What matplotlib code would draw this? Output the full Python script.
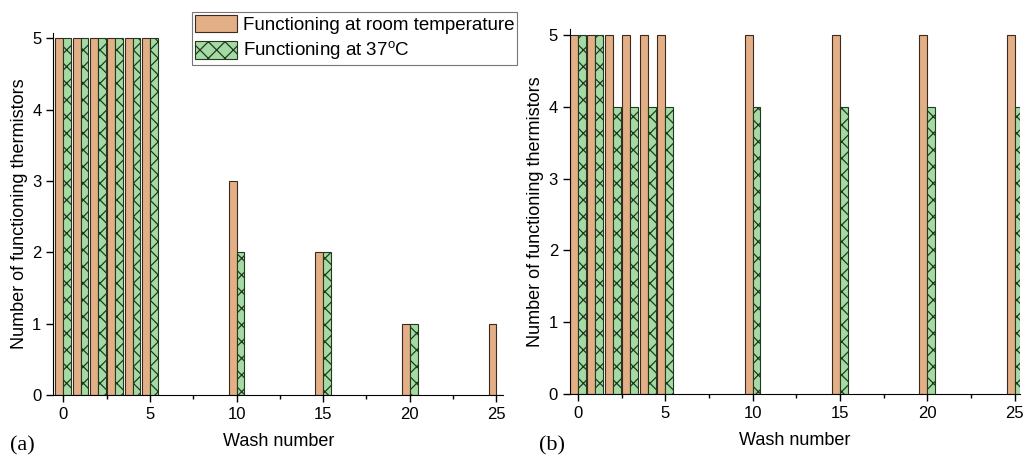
import matplotlib
matplotlib.use("Agg")
import matplotlib.pyplot as plt
import numpy as np

plt.rcParams['font.family'] = ['Liberation Sans', 'DejaVu Sans']
plt.rcParams['hatch.color'] = '#2f6a2f'
plt.rcParams['hatch.linewidth'] = 0.9

wash = [0, 1, 2, 3, 4, 5, 10, 15, 20, 25]
a_room = [5, 5, 5, 5, 5, 5, 3, 2, 1, 1]
a_37 = [5, 5, 5, 5, 5, 5, 2, 2, 1, 0]
b_room = [5, 5, 5, 5, 5, 5, 5, 5, 5, 5]
b_37 = [5, 5, 4, 4, 4, 4, 4, 4, 4, 4]

labels = ['Functioning at room temperature', 'Functioning at 37$^{\\mathregular{o}}$C']
c_room = '#e3af86'
c_37 = '#a5daa5'
w = 0.45

fig = plt.figure(figsize=(10.23, 4.61), dpi=100)
axa = fig.add_axes([0.052, 0.143, 0.440, 0.785])
axb = fig.add_axes([0.557, 0.145, 0.440, 0.792])

def draw(ax, room, c37, xlim, ytop, lpad):
    x = np.array(wash, dtype=float)
    b1 = ax.bar(x - w / 2, room, width=w, color=c_room, edgecolor='#3a2a20', linewidth=0.8, label=labels[0])
    b2 = ax.bar(x + w / 2, c37, width=w, color=c_37, edgecolor='#1f3a1f', linewidth=0.8, hatch='xx', label=labels[1])
    ax.set_xlim(*xlim)
    ax.set_ylim(0, ytop)
    ax.spines['top'].set_visible(False)
    ax.spines['right'].set_visible(False)
    ax.set_xticks([0, 5, 10, 15, 20, 25])
    ax.set_xticks([2.5, 7.5, 12.5, 17.5, 22.5], minor=True)
    ax.set_yticks([0, 1, 2, 3, 4, 5])
    ax.tick_params(axis='both', which='major', direction='out', length=5, width=1, labelsize=12)
    ax.tick_params(axis='x', which='minor', direction='out', length=3, width=1)
    ax.set_xlabel('Wash number', fontsize=13, labelpad=8)
    ax.set_ylabel('Number of functioning thermistors', fontsize=13, labelpad=lpad)
    return b1, b2

b1, b2 = draw(axa, a_room, a_37, (-0.58, 25.4), 5.07, 3)
draw(axb, b_room, b_37, (-0.46, 25.3), 5.08, 3)

leg = fig.legend([b1, b2], labels, loc='upper left', bbox_to_anchor=(0.188, 0.974),
                 prop={'size': 13.5}, frameon=True, fancybox=False, edgecolor='#555555',
                 handlelength=2.25, handleheight=1.05, borderpad=0.15, labelspacing=0.3,
                 handletextpad=0.3, borderaxespad=0)
leg.get_frame().set_linewidth(0.8)

fig.text(0.010, 0.022, '(a)', fontsize=16, family=['Liberation Serif', 'DejaVu Serif'])
fig.text(0.527, 0.022, '(b)', fontsize=16, family=['Liberation Serif', 'DejaVu Serif'])

fig.savefig('out.png', dpi=100)
